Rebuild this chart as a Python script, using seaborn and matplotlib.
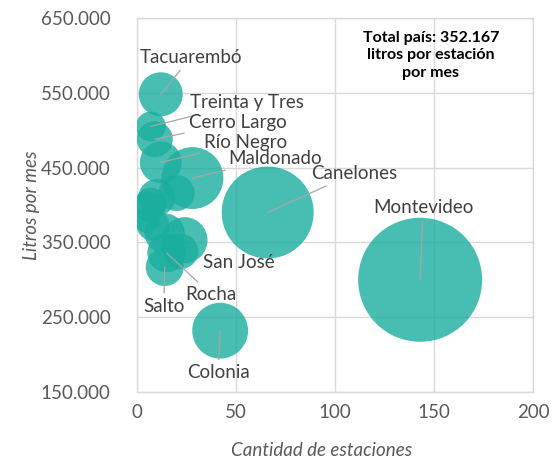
#import libraries
import matplotlib
matplotlib.use("Agg")
import matplotlib.pyplot as plt
import matplotlib.ticker as mticker
import pandas as pd
import seaborn as sns

#data
departamentos = ["Montevideo", "Canelones", "Colonia", "Maldonado", "Tacuarembó",
                 "Treinta y Tres", "Cerro Largo", "Río Negro", "San José", "Rocha",
                 "Salto", "Paysandú", "Rivera", "Florida", "Soriano", "Lavalleja",
                 "Durazno", "Artigas", "Flores"]
estaciones = [143, 66, 42, 28, 12, 7, 9, 12, 24, 15, 14, 20, 10, 7, 14, 8, 22, 6, 5]
litros_mes = [300000, 390000, 232000, 436000, 548000, 505000, 488000, 457000, 353000,
              336000, 317000, 416000, 410000, 402000, 362000, 374000, 338000, 398000, 380000]
# bubble size (millones de litros por mes)
volumen = [42.9, 23.6, 8.7, 10.7, 5.4, 2.5, 3.6, 4.9, 5.9, 4.2, 4.0, 3.6, 3.8, 2.8,
           4.5, 3.0, 3.5, 2.6, 1.8]

df = pd.DataFrame({"dep": departamentos, "est": estaciones,
                   "litros": litros_mes, "vol": volumen})

# label placement (offset in pixels, horizontal alignment, leader line)
etiquetas = {
    "Tacuarembó": (30, 37, "center", True),
    "Treinta y Tres": (39, 24, "left", True),
    "Cerro Largo": (34, 17, "left", True),
    "Río Negro": (43, 20, "left", True),
    "Maldonado": (36, 20, "left", True),
    "Canelones": (43, 39, "left", True),
    "Montevideo": (3, 72, "center", True),
    "San José": (18, -22, "left", False),
    "Rocha": (19, -42, "left", True),
    "Salto": (-1, -39, "center", True),
    "Colonia": (-2, -42, "center", True),
}

sns.set_style("white")
plt.rcParams["font.family"] = ["Lato", "DejaVu Sans"]

fig = plt.figure(figsize=(5.56, 4.65), dpi=100)
ax = fig.add_axes([0.2464, 0.157, 0.7122, 0.8043])

escala = 7970 / max(volumen)
sns.scatterplot(data=df, x="est", y="litros", size="vol",
                sizes=(escala * min(volumen), escala * max(volumen)),
                size_norm=(min(volumen), max(volumen)),
                color="#1aae9f", alpha=0.8, edgecolor="none", legend=False,
                ax=ax, zorder=3)

ax.set_xlim(0, 200)
ax.set_ylim(150000, 650000)
ax.set_xticks([0, 50, 100, 150, 200])
ax.set_yticks([150000, 250000, 350000, 450000, 550000, 650000])
ax.yaxis.set_major_formatter(mticker.FuncFormatter(lambda v, p: f"{int(v):,}".replace(",", ".")))
ax.grid(True, color="#d9d9d9", lw=1, zorder=0)
ax.set_axisbelow(True)
for s in ax.spines.values():
    s.set_color("#d9d9d9")
    s.set_linewidth(1)
ax.tick_params(axis="both", length=0, labelsize=13.5, colors="#595959")
ax.tick_params(axis="y", pad=19)
ax.tick_params(axis="x", pad=9)

ax.set_xlabel("Cantidad de estaciones", fontsize=13.5, style="italic", color="#595959")
ax.set_ylabel("Litros por mes", fontsize=13.5, style="italic", color="#595959")
ax.xaxis.set_label_coords(0.465, -0.135)
ax.yaxis.set_label_coords(-0.245, 0.5)

#data labels with leader lines
for _, fila in df.iterrows():
    if fila["dep"] not in etiquetas:
        continue
    dx, dy, ha, linea = etiquetas[fila["dep"]]
    props = dict(arrowstyle="-", color="#a6a6a6", lw=0.9, shrinkA=1, shrinkB=0) if linea else None
    ax.annotate(fila["dep"], xy=(fila["est"], fila["litros"]), xytext=(dx, dy),
                textcoords="offset pixels", ha=ha, va="center", fontsize=13.5,
                color="#404040", arrowprops=props, zorder=4)

ax.text(0.742, 0.9, "Total país: 352.167\nlitros por estación\npor mes",
        transform=ax.transAxes, ha="center", va="center", fontsize=11.5,
        fontweight="bold", color="black", linespacing=1.35)

plt.savefig("out.png", dpi=100)
